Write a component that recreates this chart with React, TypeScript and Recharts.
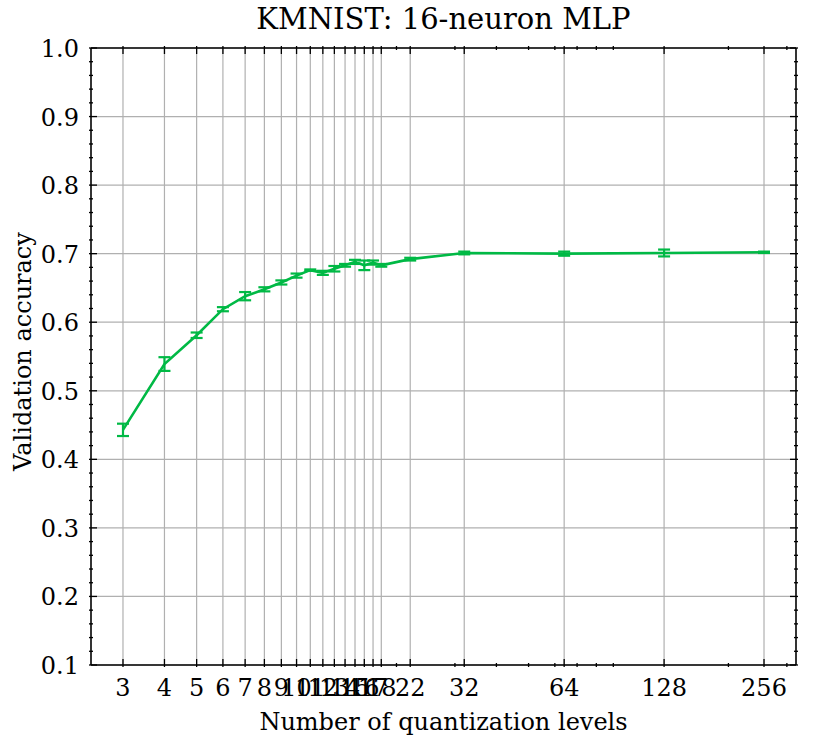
import { CartesianGrid, ErrorBar, Line, LineChart, XAxis, YAxis } from 'recharts'

const levels = [3, 4, 5, 6, 7, 8, 9, 10, 11, 12, 13, 14, 15, 16, 17, 18, 22, 32, 64, 128, 256]
const accuracy = [
  0.443, 0.539, 0.581, 0.619, 0.638, 0.648, 0.658, 0.668, 0.676, 0.672, 0.678, 0.683, 0.688,
  0.683, 0.687, 0.683, 0.692, 0.701, 0.7, 0.701, 0.702,
]
const errors = [
  0.009, 0.01, 0.004, 0.003, 0.006, 0.003, 0.003, 0.003, 0.001, 0.003, 0.004, 0.002, 0.003,
  0.007, 0.003, 0.002, 0.002, 0.002, 0.003, 0.005, 0.001,
]
const xMinorTicks = [20, 30, 40, 50, 60, 70, 80, 90, 200, 300]
const yMajorTicks = [0.1, 0.2, 0.3, 0.4, 0.5, 0.6, 0.7, 0.8, 0.9, 1.0]
const yMinorTicks = [
  0.12, 0.14, 0.16, 0.18, 0.22, 0.24, 0.26, 0.28, 0.32, 0.34, 0.36, 0.38, 0.42, 0.44, 0.46, 0.48,
  0.52, 0.54, 0.56, 0.58, 0.62, 0.64, 0.66, 0.68, 0.72, 0.74, 0.76, 0.78, 0.82, 0.84, 0.86, 0.88,
  0.92, 0.94, 0.96, 0.98,
]

const data = levels.map((n, i) => ({ n, acc: accuracy[i], err: errors[i] }))

const FONT = '"DejaVu Serif", "Liberation Serif", "Times New Roman", serif'
const GREEN = '#00B945'
const X_DOMAIN = [2.403, 319.6]
const Y_DOMAIN = [0.1, 1.0]
const MAJOR = 8
const MINOR = 4
const xAll = [...levels, ...xMinorTicks]
const yAll = [...yMajorTicks, ...yMinorTicks]

const isMajorX = (v: number) => levels.includes(v)
const isMajorY = (v: number) => yMajorTicks.some((t) => Math.abs(t - v) < 1e-6)

function BottomTick({ x, y, payload }: any) {
  const major = isMajorX(payload.value)
  return (
    <g>
      <line x1={x} x2={x} y1={y} y2={y - (major ? MAJOR : MINOR)} stroke="#000" strokeWidth={1.3} />
      {major && (
        <text x={x} y={y + 29} textAnchor="middle" fontFamily={FONT} fontSize={24} fill="#000">
          {payload.value}
        </text>
      )}
    </g>
  )
}

function LeftTick({ x, y, payload }: any) {
  const major = isMajorY(payload.value)
  return (
    <g>
      <line x1={x} x2={x + (major ? MAJOR : MINOR)} y1={y} y2={y} stroke="#000" strokeWidth={1.3} />
      {major && (
        <text x={x - 10} y={y + 9} textAnchor="end" fontFamily={FONT} fontSize={24} fill="#000">
          {payload.value.toFixed(1)}
        </text>
      )}
    </g>
  )
}

function TopTick({ x, y, payload }: any) {
  const len = isMajorX(payload.value) ? MAJOR : MINOR
  return <line x1={x} x2={x} y1={y} y2={y + len} stroke="#000" strokeWidth={1.3} />
}

function RightTick({ x, y, payload }: any) {
  const len = isMajorY(payload.value) ? MAJOR : MINOR
  return <line x1={x} x2={x - len} y1={y} y2={y} stroke="#000" strokeWidth={1.3} />
}

export default function App() {
  const axisLine = { stroke: '#000', strokeWidth: 1.6 }
  return (
    <div style={{ position: 'absolute', left: 0, top: 0, width: 813, height: 745, background: '#fff' }}>
      <div
        style={{
          position: 'absolute',
          top: 2,
          left: 91,
          width: 705,
          textAlign: 'center',
          fontFamily: FONT,
          fontSize: 29,
        }}
      >
        KMNIST: 16-neuron MLP
      </div>
      <LineChart width={813} height={745} data={data} margin={{ top: 0, right: 0, bottom: 0, left: 0 }}>
        <CartesianGrid stroke="#b0b0b0" strokeWidth={1.2} verticalValues={levels} horizontalValues={yMajorTicks} />
        <XAxis
          dataKey="n"
          type="number"
          scale="log"
          domain={X_DOMAIN}
          allowDataOverflow
          ticks={xAll}
          interval={0}
          height={80}
          tickSize={0}
          tickLine={false}
          axisLine={axisLine}
          tick={<BottomTick />}
          label={{
            value: 'Number of quantization levels',
            position: 'center',
            dy: 16,
            style: { fontFamily: FONT, fontSize: 24, fill: '#000' },
          }}
        />
        <XAxis
          xAxisId="top"
          orientation="top"
          dataKey="n"
          type="number"
          scale="log"
          domain={X_DOMAIN}
          allowDataOverflow
          ticks={xAll}
          interval={0}
          height={48}
          tickSize={0}
          tickLine={false}
          axisLine={axisLine}
          tick={<TopTick />}
        />
        <YAxis
          type="number"
          domain={Y_DOMAIN}
          allowDataOverflow
          ticks={yAll}
          interval={0}
          width={91}
          tickSize={0}
          tickLine={false}
          axisLine={axisLine}
          tick={<LeftTick />}
          label={{
            value: 'Validation accuracy',
            angle: -90,
            position: 'center',
            dx: -23,
            dy: -5,
            style: { fontFamily: FONT, fontSize: 24, fill: '#000' },
          }}
        />
        <YAxis
          yAxisId="right"
          orientation="right"
          type="number"
          domain={Y_DOMAIN}
          allowDataOverflow
          ticks={yAll}
          interval={0}
          width={17}
          tickSize={0}
          tickLine={false}
          axisLine={axisLine}
          tick={<RightTick />}
        />
        <Line
          dataKey="acc"
          stroke={GREEN}
          strokeWidth={2.6}
          dot={false}
          isAnimationActive={false}
        >
          <ErrorBar dataKey="err" direction="y" width={6} stroke={GREEN} strokeWidth={2.2} isAnimationActive={false} />
        </Line>
      </LineChart>
    </div>
  )
}
